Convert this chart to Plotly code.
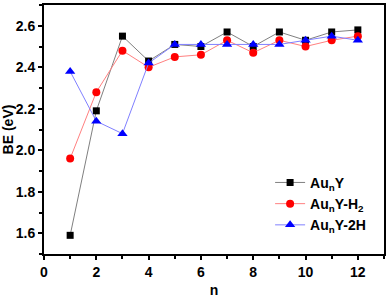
import plotly.graph_objects as go

n = list(range(1, 13))
auny = [1.59, 2.19, 2.55, 2.43, 2.51, 2.50, 2.57, 2.50, 2.57, 2.53, 2.57, 2.58]
auny_h2 = [1.96, 2.28, 2.48, 2.40, 2.45, 2.46, 2.53, 2.47, 2.53, 2.50, 2.53, 2.55]
auny_2h = [2.38, 2.14, 2.08, 2.42, 2.51, 2.51, 2.51, 2.51, 2.51, 2.53, 2.55, 2.53]
names = ["Au<sub>n</sub>Y", "Au<sub>n</sub>Y-H<sub>2</sub>", "Au<sub>n</sub>Y-2H"]

fig = go.Figure()
fig.add_trace(go.Scatter(x=n, y=auny, name=names[0], mode="lines+markers",
                         line=dict(color="#808080", width=1),
                         marker=dict(symbol="square", size=7, color="black")))
fig.add_trace(go.Scatter(x=n, y=auny_h2, name=names[1], mode="lines+markers",
                         line=dict(color="#ff8080", width=1),
                         marker=dict(symbol="circle", size=8, color="red")))
fig.add_trace(go.Scatter(x=n, y=auny_2h, name=names[2], mode="lines+markers",
                         line=dict(color="#8080ff", width=1),
                         marker=dict(symbol="triangle-up", size=9, color="blue")))

font = dict(family="Liberation Sans, Arial, sans-serif", size=14, color="black", weight="bold")

fig.update_layout(
    width=387, height=301,
    margin=dict(l=44, r=3, t=5, b=47, autoexpand=False),
    paper_bgcolor="white", plot_bgcolor="white",
    font=font,
    showlegend=True,
    legend=dict(x=0.665, y=0.35, xanchor="left", yanchor="top",
                bgcolor="rgba(0,0,0,0)", itemwidth=30,
                font=dict(family="Liberation Sans, Arial, sans-serif", size=14, color="black", weight="bold"),
                tracegroupgap=0),
)
fig.update_xaxes(range=[0, 13], dtick=2, tick0=0, showgrid=False, zeroline=False,
                 showline=True, linecolor="black", linewidth=2, mirror=True,
                 ticks="outside", ticklen=4, tickwidth=1.5, tickcolor="black",
                 minor=dict(dtick=1, tick0=0, ticks="outside", ticklen=3, tickcolor="black", tickwidth=1.5),
                 tickfont=font, automargin=False,
                 title=dict(text="n", font=font, standoff=6))
fig.update_yaxes(range=[1.5, 2.7], dtick=0.2, tick0=1.6, tickformat=".1f", showgrid=False, zeroline=False,
                 showline=True, linecolor="black", linewidth=2, mirror=True,
                 ticks="outside", ticklen=4, tickwidth=1.5, tickcolor="black",
                 minor=dict(dtick=0.1, tick0=1.5, ticks="outside", ticklen=3, tickcolor="black", tickwidth=1.5),
                 tickfont=font, automargin=False,
                 title=dict(text="BE (eV)", font=font, standoff=2))

fig.write_html("out.html", config={"displayModeBar": False},
               post_script="document.body.style.margin='0';document.body.style.overflow='hidden';")
